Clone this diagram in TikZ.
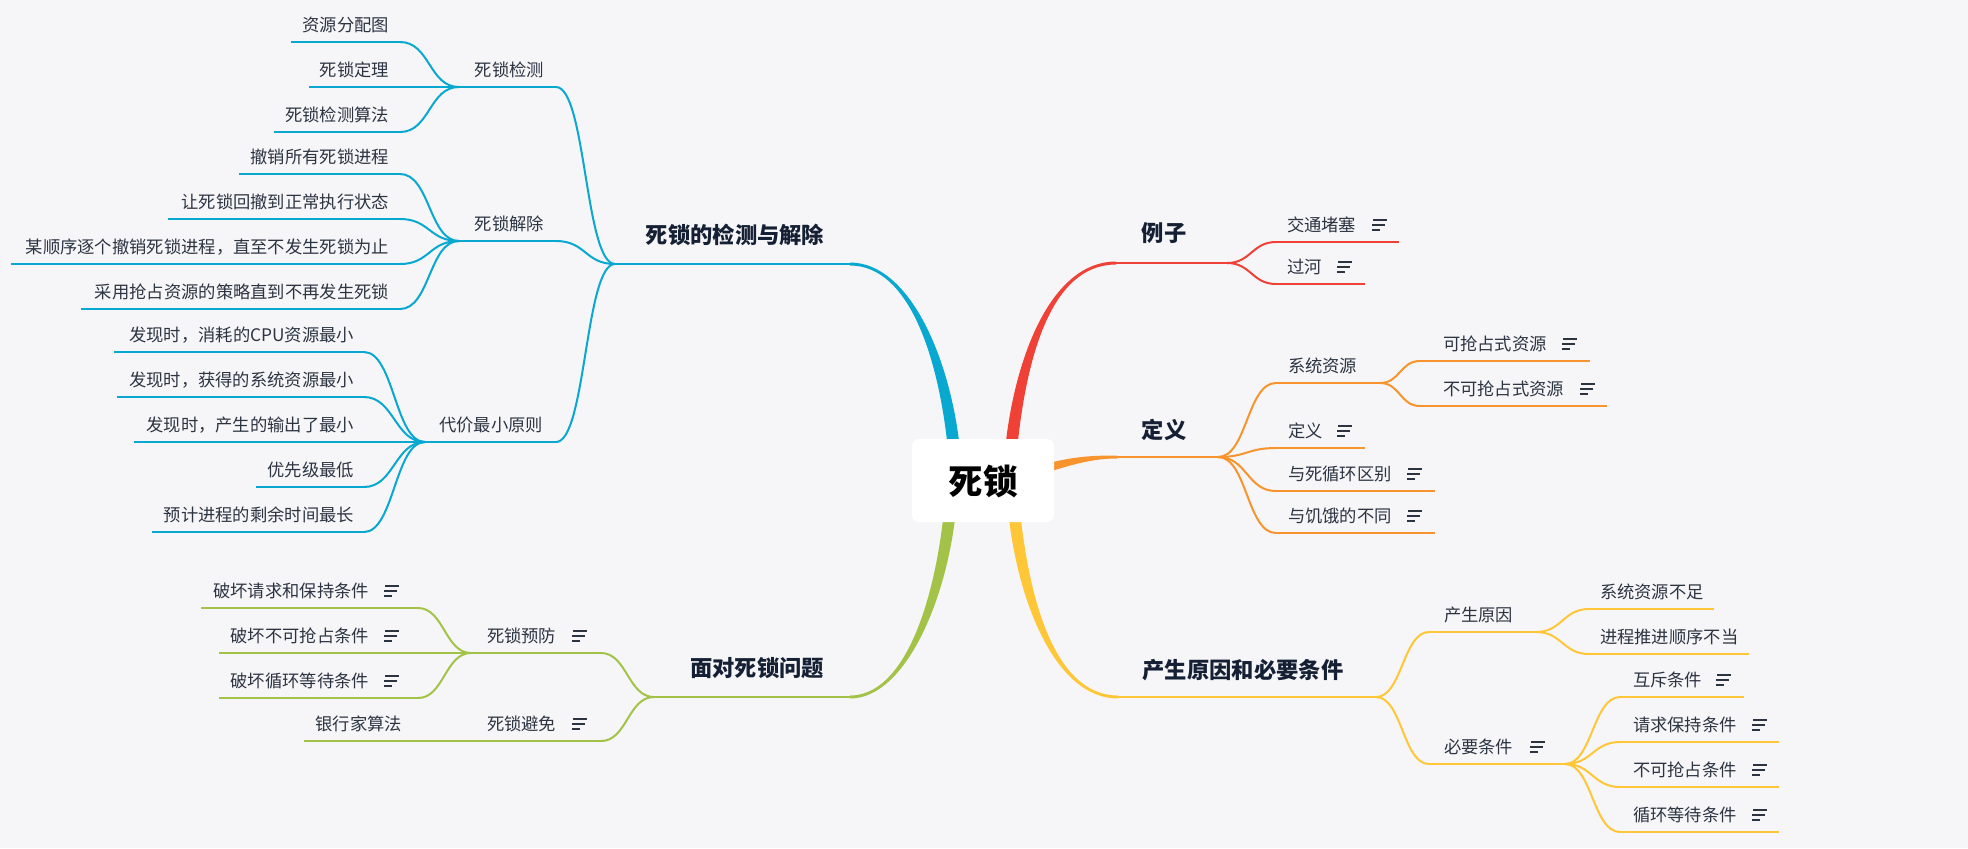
\documentclass[tikz,border=0pt]{standalone}
\usepackage{fontspec}
\newfontfamily\cjk{Noto Sans CJK SC}
\usetikzlibrary{calc}
\definecolor{bg}{RGB}{246,246,248}
\definecolor{cblue}{RGB}{9,168,208}
\definecolor{cred}{RGB}{239,65,54}
\definecolor{corange}{RGB}{247,148,45}
\definecolor{cyellow}{RGB}{255,199,56}
\definecolor{cgreen}{RGB}{163,195,72}
\definecolor{ctext}{RGB}{44,52,66}
\definecolor{cbold}{RGB}{22,32,52}
\tikzset{
  every node/.style={inner sep=0pt, outer sep=0pt},
  txt/.style={font=\cjk\fontsize{8.65pt}{10pt}\selectfont, text=ctext},
  lonetxt/.style={font=\cjk\bfseries\fontsize{11.15pt}{13pt}\selectfont, text=cbold},
  ln/.style={line width=1pt},
  lnA/.style={line width=1.3pt},
  noteline/.style={draw=ctext, line width=0.7pt}
}
\newcommand\noteicon[2]{\draw[noteline] (#1+1,#2-5) -- (#1+15,#2-5) (#1,#2) -- (#1+13,#2) (#1,#2+5) -- (#1+8,#2+5);}
\newcommand\topic[8]{%
  \coordinate (#1-l) at (#4,#3);
  \coordinate (#1-r) at (#5,#3);
  \draw[#2,ln] (#1-l) -- (#1-r);
  \node[txt, anchor=#6] (#1) at (#7,#3-17) {#8};}
\newcommand\conn[5]{\draw[#1,ln] (#2) .. controls +(#4,0) and +(#5,0) .. (#3);}
\begin{document}
\begin{tikzpicture}[x=0.5pt,y=-0.5pt]
\fill[bg] (0,0) rectangle (1968,848);
\useasboundingbox (0,0) rectangle (1968,848);

% ---------- thick main branches ----------
\fill[cblue] (948,450) .. controls (939,360) and (910,265.5) .. (850,265.5) -- (850,262.5) .. controls (910,262.5) and (951,360) .. (960,450) -- cycle;
\fill[cred] (1005,450) .. controls (1014,360) and (1050,261.5) .. (1116,261.5) -- (1116,264.5) .. controls (1050,264.5) and (1026,360) .. (1017,450) -- cycle;
\fill[cgreen] (956,510) .. controls (947,600) and (905,698.5) .. (850,698.5) -- (850,695.5) .. controls (905,695.5) and (935,600) .. (944,510) -- cycle;
\fill[cyellow] (1020,510) .. controls (1029,600) and (1055,695.5) .. (1118,695.5) -- (1118,698.5) .. controls (1055,698.5) and (1017,600) .. (1008,510) -- cycle;
\fill[corange] (1045,464) .. controls (1075,456) and (1095,455.5) .. (1117,455.5) -- (1117,458.5) .. controls (1095,458.5) and (1077,463) .. (1045,473) -- cycle;

% ---------- centre ----------
\node[fill=white, rounded corners=3.5pt, minimum width=71pt, minimum height=41.5pt] (root) at (983,480.5) {};
\node[font=\cjk\bfseries\fontsize{17.25pt}{20pt}\selectfont, text=black] (roottxt) at (983,481) {死锁};

% ================= BLUE =================
\coordinate (J1) at (615,264);
\coordinate (B0r) at (850,264);
\draw[cblue,lnA] (J1) -- (B0r);
\node[lonetxt] (B0) at (735,235) {死锁的检测与解除};

\topic{B1}{cblue}{87}{459}{556}{east}{544}{死锁检测}
\topic{B2}{cblue}{241}{459}{556}{east}{544}{死锁解除}
\topic{B3}{cblue}{442}{425}{556}{east}{543}{代价最小原则}
\conn{cblue}{J1}{B1-r}{-30}{30}
\conn{cblue}{J1}{B2-r}{-30}{30}
\conn{cblue}{J1}{B3-r}{-30}{30}

\topic{B11}{cblue}{42}{291}{400}{east}{389}{资源分配图}
\topic{B12}{cblue}{87}{309}{400}{east}{389}{死锁定理}
\topic{B13}{cblue}{132}{274}{400}{east}{389}{死锁检测算法}
\conn{cblue}{B1-l}{B11-r}{-30}{30}
\conn{cblue}{B1-l}{B12-r}{-30}{30}
\conn{cblue}{B1-l}{B13-r}{-30}{30}

\topic{B21}{cblue}{174}{239}{400}{east}{389}{撤销所有死锁进程}
\topic{B22}{cblue}{219}{168}{400}{east}{389}{让死锁回撤到正常执行状态}
\topic{B23}{cblue}{264}{11}{400}{east}{389}{某顺序逐个撤销死锁进程，直至不发生死锁为止}
\topic{B24}{cblue}{309}{81}{400}{east}{389}{采用抢占资源的策略直到不再发生死锁}
\conn{cblue}{B2-l}{B21-r}{-30}{30}
\conn{cblue}{B2-l}{B22-r}{-30}{30}
\conn{cblue}{B2-l}{B23-r}{-30}{30}
\conn{cblue}{B2-l}{B24-r}{-30}{30}

\topic{B31}{cblue}{352}{114}{364}{east}{354}{发现时，消耗的CPU资源最小}
\topic{B32}{cblue}{397}{117}{364}{east}{354}{发现时，获得的系统资源最小}
\topic{B33}{cblue}{442}{134}{364}{east}{354}{发现时，产生的输出了最小}
\topic{B34}{cblue}{487}{256}{364}{east}{354}{优先级最低}
\topic{B35}{cblue}{532}{152}{364}{east}{354}{预计进程的剩余时间最长}
\conn{cblue}{B3-l}{B31-r}{-30}{30}
\conn{cblue}{B3-l}{B32-r}{-30}{30}
\conn{cblue}{B3-l}{B33-r}{-30}{30}
\conn{cblue}{B3-l}{B34-r}{-30}{30}
\conn{cblue}{B3-l}{B35-r}{-30}{30}

% ================= GREEN =================
\coordinate (J4) at (654,697);
\coordinate (G0r) at (850,697);
\draw[cgreen,lnA] (J4) -- (G0r);
\node[lonetxt] (G0) at (757,668) {面对死锁问题};

\topic{G1}{cgreen}{653}{471}{601}{west}{487}{死锁预防}
\noteicon{572}{636}
\topic{G2}{cgreen}{741}{471}{601}{west}{487}{死锁避免}
\noteicon{572}{724}
\conn{cgreen}{J4}{G1-r}{-26}{26}
\conn{cgreen}{J4}{G2-r}{-26}{26}

\topic{G11}{cgreen}{608}{201}{418}{east}{369}{破坏请求和保持条件}
\noteicon{384}{591}
\topic{G12}{cgreen}{653}{219}{418}{east}{369}{破坏不可抢占条件}
\noteicon{384}{636}
\topic{G13}{cgreen}{698}{219}{418}{east}{369}{破坏循环等待条件}
\noteicon{384}{681}
\conn{cgreen}{G1-l}{G11-r}{-26}{26}
\conn{cgreen}{G1-l}{G12-r}{-26}{26}
\conn{cgreen}{G1-l}{G13-r}{-26}{26}

\topic{G21}{cgreen}{741}{304}{418}{east}{402}{银行家算法}
\draw[cgreen,ln] (G21-r) -- (G2-l);

% ================= RED =================
\coordinate (R0l) at (1116,263);
\coordinate (J2) at (1227,263);
\draw[cred,lnA] (R0l) -- (J2);
\node[lonetxt] (R0) at (1164,233) {例子};
\topic{R1}{cred}{242}{1276}{1399}{west}{1287}{交通堵塞}
\noteicon{1372}{225}
\topic{R2}{cred}{284}{1276}{1365}{west}{1287}{过河}
\noteicon{1337}{267}
\conn{cred}{J2}{R1-l}{24}{-24}
\conn{cred}{J2}{R2-l}{24}{-24}

% ================= ORANGE =================
\coordinate (O0l) at (1117,457);
\coordinate (J3) at (1218,457);
\draw[corange,lnA] (O0l) -- (J3);
\node[lonetxt] (O0) at (1164,430) {定义};
\topic{O1}{corange}{383}{1276}{1380}{west}{1288}{系统资源}
\topic{O2}{corange}{448}{1276}{1365}{west}{1288}{定义}
\noteicon{1337}{431}
\topic{O3}{corange}{491}{1276}{1435}{west}{1288}{与死循环区别}
\noteicon{1407}{474}
\topic{O4}{corange}{533}{1276}{1435}{west}{1288}{与饥饿的不同}
\noteicon{1407}{516}
\conn{corange}{J3}{O1-l}{29}{-29}
\conn{corange}{J3}{O2-l}{29}{-29}
\conn{corange}{J3}{O3-l}{29}{-29}
\conn{corange}{J3}{O4-l}{29}{-29}
\topic{O11}{corange}{361}{1420}{1590}{west}{1443}{可抢占式资源}
\noteicon{1562}{344}
\topic{O12}{corange}{406}{1420}{1607}{west}{1443}{不可抢占式资源}
\noteicon{1580}{389}
\conn{corange}{O1-r}{O11-l}{20}{-20}
\conn{corange}{O1-r}{O12-l}{20}{-20}

% ================= YELLOW =================
\coordinate (Y0l) at (1118,697);
\coordinate (J5) at (1376,697);
\draw[cyellow,lnA] (Y0l) -- (J5);
\node[lonetxt] (Y0) at (1243,670) {产生原因和必要条件};
\topic{Y1}{cyellow}{632}{1429}{1536}{west}{1444}{产生原因}
\topic{Y2}{cyellow}{764}{1429}{1565}{west}{1444}{必要条件}
\noteicon{1530}{747}
\conn{cyellow}{J5}{Y1-l}{26}{-26}
\conn{cyellow}{J5}{Y2-l}{26}{-26}
\topic{Y11}{cyellow}{609}{1589}{1714}{west}{1600}{系统资源不足}
\topic{Y12}{cyellow}{654}{1589}{1749}{west}{1600}{进程推进顺序不当}
\conn{cyellow}{Y1-r}{Y11-l}{26}{-26}
\conn{cyellow}{Y1-r}{Y12-l}{26}{-26}
\topic{Y21}{cyellow}{697}{1620}{1744}{west}{1633}{互斥条件}
\noteicon{1716}{680}
\topic{Y22}{cyellow}{742}{1620}{1779}{west}{1633}{请求保持条件}
\noteicon{1752}{725}
\topic{Y23}{cyellow}{787}{1620}{1779}{west}{1633}{不可抢占条件}
\noteicon{1752}{770}
\topic{Y24}{cyellow}{832}{1620}{1779}{west}{1633}{循环等待条件}
\noteicon{1752}{815}
\conn{cyellow}{Y2-r}{Y21-l}{27}{-27}
\conn{cyellow}{Y2-r}{Y22-l}{27}{-27}
\conn{cyellow}{Y2-r}{Y23-l}{27}{-27}
\conn{cyellow}{Y2-r}{Y24-l}{27}{-27}
\end{tikzpicture}
\end{document}
